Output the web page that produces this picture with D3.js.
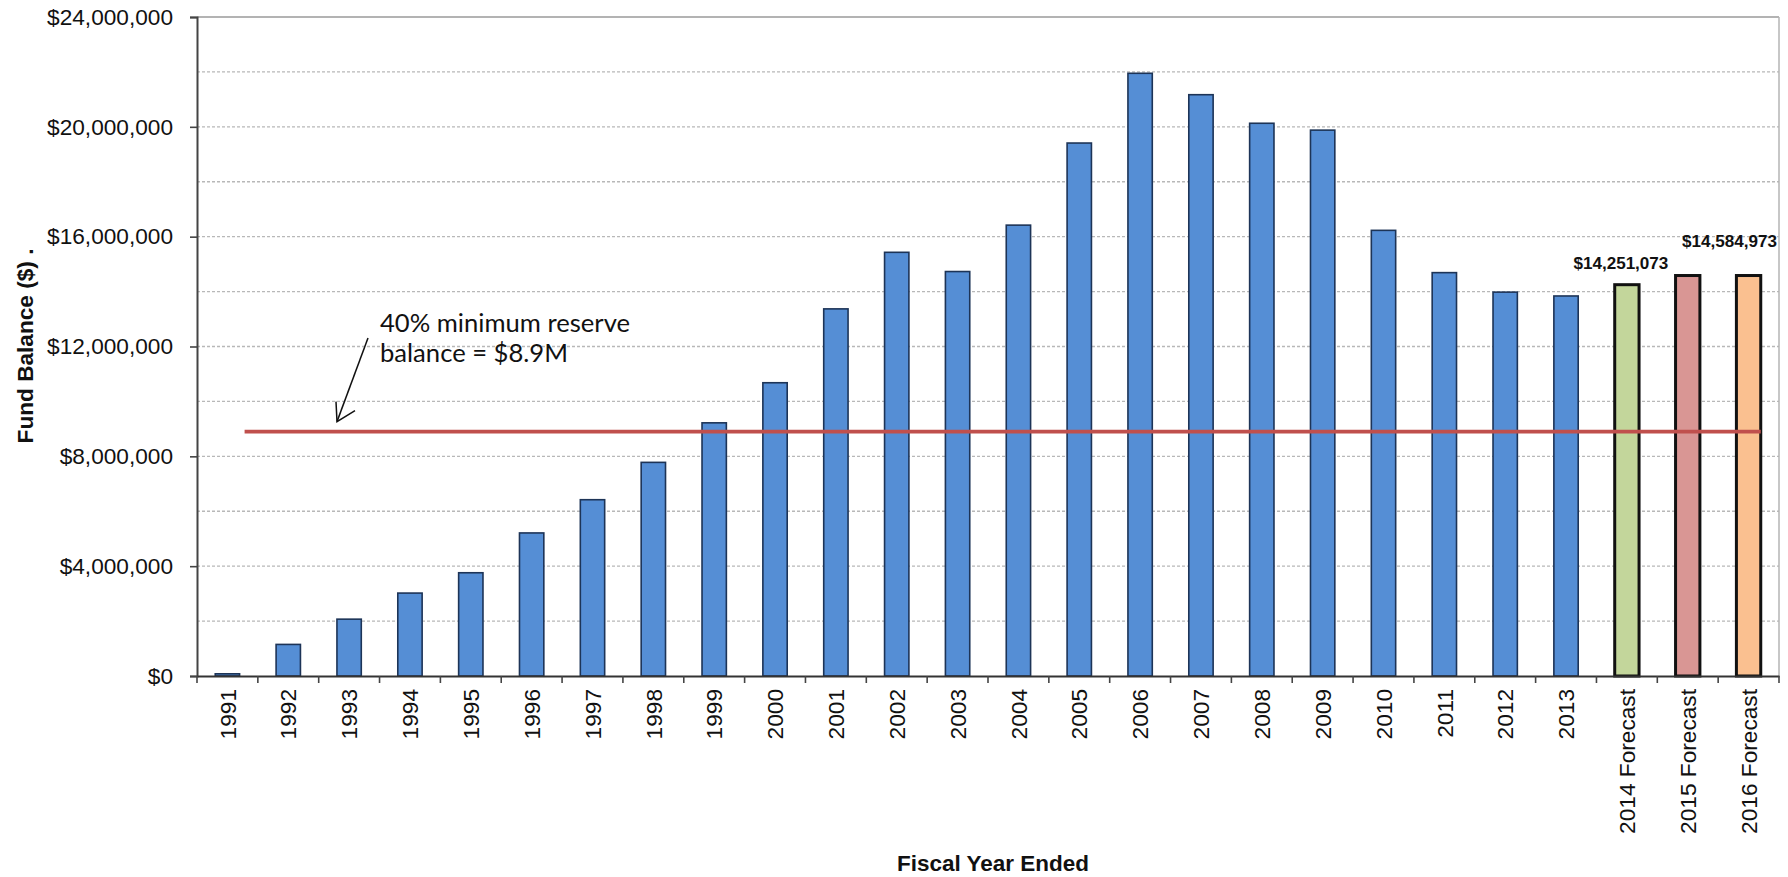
<!DOCTYPE html>
<html>
<head>
<meta charset="utf-8">
<script src="https://cdn.jsdelivr.net/npm/d3@7"></script>
<style>
  html, body { margin: 0; padding: 0; background: #fff; }
  svg { display: block; }
  text { font-family: "Liberation Sans", Arial, sans-serif; fill: #111; }
</style>
</head>
<body>
<svg id="chart" width="1788" height="877"></svg>
<script>
// Fiscal years shown along the x axis
const years = ["1991","1992","1993","1994","1995","1996","1997","1998","1999","2000",
  "2001","2002","2003","2004","2005","2006","2007","2008","2009","2010",
  "2011","2012","2013","2014 Forecast","2015 Forecast","2016 Forecast"];

// Year-end fund balance in dollars
const balances = [80000, 1150000, 2070000, 3020000, 3760000, 5210000, 6420000, 7780000,
  9220000, 10680000, 13370000, 15430000, 14730000, 16420000, 19410000, 21950000,
  21170000, 20130000, 19880000, 16230000, 14690000, 13980000, 13840000,
  14251073, 14584973, 14584973];

// Bar fills: actuals in blue, each forecast year in its own colour
const barFills = ["#558ed5","#558ed5","#558ed5","#558ed5","#558ed5","#558ed5","#558ed5",
  "#558ed5","#558ed5","#558ed5","#558ed5","#558ed5","#558ed5","#558ed5","#558ed5",
  "#558ed5","#558ed5","#558ed5","#558ed5","#558ed5","#558ed5","#558ed5","#558ed5",
  "#c3d69b","#d99694","#fac090"];

// Years that carry a value label
const labelledYears = ["2014 Forecast", "2016 Forecast"];

// y axis ticks and gridlines
const yTickValues = [0, 4000000, 8000000, 12000000, 16000000, 20000000, 24000000];
const gridValues = [2000000, 4000000, 6000000, 8000000, 10000000, 12000000,
  14000000, 16000000, 18000000, 20000000, 22000000];

// Minimum reserve policy level
const reserveLevel = 8900000;
const reserveLines = ["40% minimum reserve", "balance = $8.9M"];

const svg = d3.select("#chart");
const W = 1788, H = 877;
const margin = { top: 17, right: 9, bottom: 201, left: 197 };
const innerW = W - margin.left - margin.right;
const innerH = H - margin.top - margin.bottom;

// size a group of labels so that the reference string spans the given width
function fitFont(sel, refNode, width) {
  const base = 20;
  sel.style("font-size", base + "px");
  const len = refNode.getComputedTextLength();
  sel.style("font-size", (base * width / len).toFixed(2) + "px");
}

const g = svg.append("g").attr("transform", `translate(${margin.left},${margin.top})`);

const x = d3.scaleBand().domain(years).range([0, innerW]).paddingInner(0.6).paddingOuter(0.3);
const y = d3.scaleLinear().domain([0, 24000000]).range([innerH, 0]);

const money = d3.format("$,.0f");

// dashed gridlines
g.append("g").selectAll("line").data(gridValues).join("line")
  .attr("x1", 0).attr("x2", innerW)
  .attr("y1", d => y(d)).attr("y2", d => y(d))
  .attr("stroke", "#b8b8b8").attr("stroke-width", 1.3)
  .attr("stroke-dasharray", "3,2");

// top and right frame
g.append("line").attr("x1", 0).attr("x2", innerW).attr("y1", y(24000000)).attr("y2", y(24000000))
  .attr("stroke", "#9a9a9a").attr("stroke-width", 1.6);
g.append("line").attr("x1", innerW).attr("x2", innerW).attr("y1", 0).attr("y2", innerH)
  .attr("stroke", "#b5b5b5").attr("stroke-width", 1.5);

// bars
const rows = years.map((yr, i) => ({ year: yr, value: balances[i], fill: barFills[i], forecast: yr.includes("Forecast") }));
g.append("g").selectAll("rect").data(rows).join("rect")
  .attr("x", d => x(d.year))
  .attr("width", x.bandwidth())
  .attr("y", d => y(d.value))
  .attr("height", d => y(0) - y(d.value))
  .attr("fill", d => d.fill)
  .attr("stroke", d => d.forecast ? "#111" : "#1d3457")
  .attr("stroke-width", d => d.forecast ? 3 : 1.6);

// reserve line
const firstYear = years[0], lastYear = years[years.length - 1];
g.append("line")
  .attr("x1", x(firstYear) + x.bandwidth() + 5)
  .attr("x2", x(lastYear) + x.bandwidth())
  .attr("y1", y(reserveLevel)).attr("y2", y(reserveLevel))
  .attr("stroke", "#c0504d").attr("stroke-width", 3.6);

// value labels on the forecast bars
const labelRows = rows.filter(d => labelledYears.includes(d.year));
const valueLabels = g.append("g").selectAll("text").data(labelRows).join("text")
  .attr("x", d => d.year === lastYear ? innerW - 2 : x(d.year) + x.bandwidth() / 2 - 6)
  .attr("y", d => y(d.value) - (d.year === lastYear ? 29 : 16))
  .attr("text-anchor", d => d.year === lastYear ? "end" : "middle")
  .style("font-weight", "bold")
  .text(d => money(d.value));
fitFont(valueLabels, valueLabels.node(), 95);

// y axis
const yAxis = g.append("g")
  .call(d3.axisLeft(y).tickValues(yTickValues).tickFormat(money).tickSize(7).tickPadding(17));
yAxis.select(".domain").attr("stroke", "#444").attr("stroke-width", 2);
yAxis.selectAll(".tick line").attr("stroke", "#444").attr("stroke-width", 1.6);
const yLabels = yAxis.selectAll("text").attr("fill", "#111");
fitFont(yLabels, yLabels.nodes()[yLabels.size() - 1], 126);

// x axis with ticks between categories
const xAxis = g.append("g").attr("transform", `translate(0,${innerH})`)
  .call(d3.axisBottom(x).tickSize(0).tickSizeOuter(0));
xAxis.select(".domain").attr("stroke", "#333").attr("stroke-width", 2);
const xLabels = xAxis.selectAll("text")
  .attr("y", 0).attr("x", -13).attr("dy", "0.36em")
  .attr("transform", "rotate(-90)")
  .style("text-anchor", "end")
  .attr("fill", "#111");
fitFont(xLabels, xLabels.nodes()[years.length - 3], 145);
const step = x.step();
xAxis.append("g").selectAll("line").data(d3.range(years.length + 1)).join("line")
  .attr("x1", i => i * step).attr("x2", i => i * step)
  .attr("y1", 0).attr("y2", 7)
  .attr("stroke", "#444").attr("stroke-width", 1.6);

// axis titles
const yTitle = svg.append("text")
  .attr("transform", `translate(33,${346}) rotate(-90)`)
  .attr("text-anchor", "middle")
  .style("font-weight", "bold")
  .text("Fund Balance ($) .");
fitFont(yTitle, yTitle.node(), 195);
const xTitle = svg.append("text")
  .attr("x", 993).attr("y", 871)
  .attr("text-anchor", "middle")
  .style("font-weight", "bold")
  .text("Fiscal Year Ended");
fitFont(xTitle, xTitle.node(), 192);

// annotation for the reserve line
const note = svg.append("text")
  .style("font-family", "Lato, 'Open Sans', sans-serif");
const noteLines = note.selectAll("tspan").data(reserveLines).join("tspan")
  .attr("x", 380).attr("y", (d, i) => 332 + i * 30)
  .text(d => d);
fitFont(note, noteLines.node(), 250);

// arrow pointing at the reserve line
const tipX = 337, tipY = margin.top + y(reserveLevel) - 10;
svg.append("line").attr("x1", 368).attr("y1", 338).attr("x2", tipX).attr("y2", tipY)
  .attr("stroke", "#111").attr("stroke-width", 1.5);
svg.append("path")
  .attr("d", `M${tipX - 1},${tipY - 20} L${tipX},${tipY} L${tipX + 18},${tipY - 11}`)
  .attr("fill", "none").attr("stroke", "#111").attr("stroke-width", 1.5);
</script>
</body>
</html>
